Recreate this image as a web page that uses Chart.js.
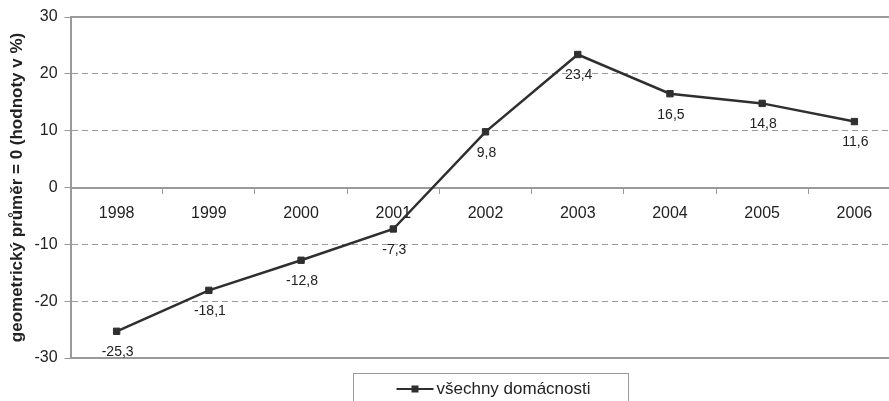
<!DOCTYPE html>
<html>
<head>
<meta charset="utf-8">
<script src="https://cdn.jsdelivr.net/npm/chart.js@4/dist/chart.umd.min.js"></script>
<style>
  html, body { margin: 0; padding: 0; background: #fff; overflow: hidden; }
  #wrap { width: 906px; height: 401px; position: relative; }
</style>
</head>
<body>
<div id="wrap"><canvas id="chart"></canvas></div>
<script>
// Index of households relative to the geometric mean (values in %)
const years = ['1998', '1999', '2000', '2001', '2002', '2003', '2004', '2005', '2006'];
const values = [-25.3, -18.1, -12.8, -7.3, 9.8, 23.4, 16.5, 14.8, 11.6];
const yTicks = [-30, -20, -10, 0, 10, 20, 30];
const seriesName = 'všechny domácnosti';
const axisTitle = 'geometrický průměr = 0 (hodnoty v %)';

const FONT = '"Liberation Sans", Arial, sans-serif';
const TEXT = '#222';
const AXIS = '#9a9a9a';
const LINE = '#2f2f2f';

const fmt = v => v.toFixed(1).replace('.', ',');

// Solid frame lines at the top and bottom of the plot area
const framePlugin = {
  id: 'frame',
  beforeDatasetsDraw(chart) {
    const { ctx, chartArea, scales } = chart;
    const y = scales.y;
    ctx.save();
    ctx.strokeStyle = AXIS;
    ctx.lineWidth = 2;
    [y.max, y.min].forEach(v => {
      const py = Math.round(y.getPixelForValue(v));
      ctx.beginPath();
      ctx.moveTo(chartArea.left, py);
      ctx.lineTo(chartArea.right, py);
      ctx.stroke();
    });
    ctx.restore();
  }
};

// Value labels under each point
const valueLabels = {
  id: 'valueLabels',
  afterDatasetsDraw(chart) {
    const { ctx } = chart;
    const meta = chart.getDatasetMeta(0);
    const data = chart.data.datasets[0].data;
    ctx.save();
    ctx.font = '14px ' + FONT;
    ctx.fillStyle = TEXT;
    ctx.textAlign = 'center';
    ctx.textBaseline = 'middle';
    meta.data.forEach((pt, i) => {
      ctx.fillText(fmt(data[i]), pt.x + 1, pt.y + 21);
    });
    ctx.restore();
  }
};

// Boxed legend below the plot
const boxedLegend = {
  id: 'boxedLegend',
  afterDraw(chart) {
    const { ctx, chartArea } = chart;
    const ds = chart.data.datasets[0];
    ctx.save();
    ctx.font = '17px ' + FONT;
    const tw = ctx.measureText(ds.label).width;
    const padL = 43, padR = 38, markW = 37, gap = 3;
    const w = padL + markW + gap + tw + padR;
    const cx = (chartArea.left + chartArea.right) / 2 + 5;
    const left = Math.round(cx - w / 2) + 0.5;
    const top = chartArea.bottom + 15.5;
    const midY = chartArea.bottom + 31;
    ctx.strokeStyle = AXIS;
    ctx.lineWidth = 1;
    ctx.strokeRect(left, top, w, 60);
    const mx = left + padL;
    ctx.strokeStyle = ds.borderColor;
    ctx.lineWidth = 2;
    ctx.beginPath();
    ctx.moveTo(mx, midY);
    ctx.lineTo(mx + markW, midY);
    ctx.stroke();
    ctx.fillStyle = ds.borderColor;
    ctx.fillRect(mx + markW / 2 - 3.5, midY - 3.5, 7, 7);
    ctx.fillStyle = TEXT;
    ctx.textAlign = 'left';
    ctx.textBaseline = 'middle';
    ctx.fillText(ds.label, mx + markW + gap, midY);
    ctx.restore();
  }
};

new Chart(document.getElementById('chart'), {
  type: 'line',
  data: {
    labels: years,
    datasets: [{
      label: seriesName,
      data: values,
      borderColor: LINE,
      borderWidth: 2.5,
      pointStyle: 'rect',
      pointRadius: 4.5,
      pointBackgroundColor: LINE,
      pointBorderColor: LINE,
      pointBorderWidth: 1,
      tension: 0,
      clip: false
    }]
  },
  options: {
    responsive: true,
    maintainAspectRatio: false,
    animation: false,
    devicePixelRatio: 1,
    layout: { padding: { left: 0, right: 2, top: 17, bottom: 43 } },
    plugins: {
      legend: { display: false },
      tooltip: { enabled: false }
    },
    scales: {
      x: {
        type: 'category',
        offset: true,
        position: { y: 0 },
        grid: {
          offset: true,
          drawOnChartArea: false,
          tickLength: 5,
          color: AXIS,
          tickColor: AXIS
        },
        border: { color: AXIS, width: 2 },
        ticks: {
          font: { family: FONT, size: 16 },
          color: TEXT,
          padding: 11,
          maxRotation: 0,
          autoSkip: false
        }
      },
      y: {
        position: 'left',
        min: yTicks[0],
        max: yTicks[yTicks.length - 1],
        afterBuildTicks(scale) {
          scale.ticks = yTicks.map(v => ({ value: v }));
        },
        grid: {
          color: c => (c.tick && [yTicks[0], 0, yTicks[yTicks.length - 1]].includes(c.tick.value)) ? 'rgba(0,0,0,0)' : AXIS,
          tickColor: AXIS,
          tickLength: 6,
          lineWidth: 1
        },
        border: { color: AXIS, width: 2, dash: [6, 4] },
        ticks: {
          font: { family: FONT, size: 16 },
          color: TEXT,
          padding: 7
        },
        title: {
          display: true,
          text: axisTitle,
          font: { family: FONT, size: 17, weight: 'bold' },
          color: TEXT,
          padding: { top: 7, bottom: 0 }
        }
      }
    }
  },
  plugins: [framePlugin, valueLabels, boxedLegend]
});
</script>
</body>
</html>
